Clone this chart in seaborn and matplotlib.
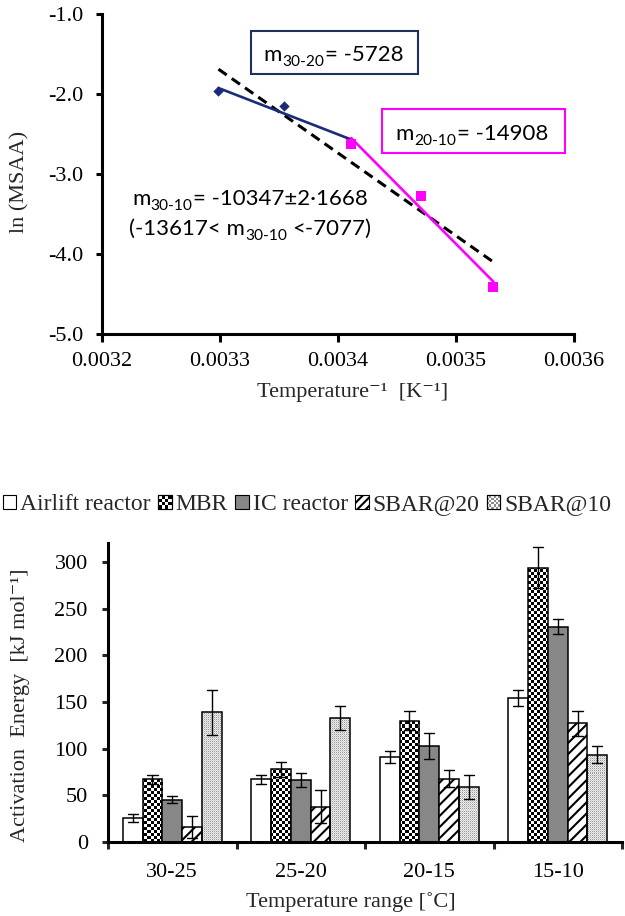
import numpy as np
import pandas as pd
import matplotlib
matplotlib.use("Agg")
import matplotlib.pyplot as plt
import seaborn as sns
from matplotlib.patches import Rectangle, Patch
from matplotlib.legend_handler import HandlerBase
from matplotlib.ticker import FormatStrFormatter, FixedLocator

# ---------------- Arrhenius plot data ----------------
temperatures_c = [30, 25, 20, 15, 10]
ln_msaa = [-1.967, -2.146, -2.625, -3.27, -4.408]

slope_30_20, intercept_30_20 = -5728, 16.970
slope_20_10, intercept_20_10 = -14908, 48.304
slope_30_10, intercept_30_10 = -10347, 32.442

# ---------------- Activation energy data ----------------
temp_ranges = ["30-25", "25-20", "20-15", "15-10"]
reactors = ["Airlift reactor", "MBR", "IC reactor", "SBAR@20", "SBAR@10"]
ea_airlift = [26, 67, 91, 154]
ea_mbr = [67, 78, 130, 294]
ea_ic = [45.5, 66.5, 103, 230.5]
ea_sbar20 = [16, 38, 68, 127]
ea_sbar10 = [139, 133, 59, 93.5]
err_airlift = [4.5, 4.5, 6, 8.6]
err_mbr = [4.5, 8, 10, 21.5]
err_ic = [4, 7.5, 14, 8]
err_sbar20 = [12, 17.5, 9, 13.5]
err_sbar10 = [24, 12.5, 12.5, 9]

NAVY = "#1c2b78"
MAGENTA = "#ff00ff"

sns.set_style("ticks")
plt.rcParams["font.family"] = ["Liberation Serif", "DejaVu Serif"]
plt.rcParams["axes.unicode_minus"] = False
plt.rcParams["hatch.linewidth"] = 1.5

fig = plt.figure(figsize=(6.25, 9.16), dpi=100)
renderer = fig.canvas.get_renderer()

# ======================= Arrhenius plot =======================
ax1 = fig.add_axes([0.1632, 0.6354, 0.7552, 0.3493])
inv_t = [1.0 / (t + 273.15) for t in temperatures_c]

# fitted segments
x_30, x_20, x_10 = inv_t[0], inv_t[2], inv_t[4]
sns.lineplot(x=[x_30, x_10],
             y=[slope_30_10 * x_30 + intercept_30_10, slope_30_10 * x_10 + intercept_30_10],
             color="black", linewidth=2.2, ax=ax1)
ax1.lines[-1].set_dashes((3.3, 2.0))
sns.lineplot(x=[x_30, x_20],
             y=[slope_30_20 * x_30 + intercept_30_20, slope_30_20 * x_20 + intercept_30_20],
             color=NAVY, linewidth=1.9, ax=ax1)
sns.lineplot(x=[x_20, x_10],
             y=[slope_20_10 * x_20 + intercept_20_10, slope_20_10 * x_10 + intercept_20_10],
             color=MAGENTA, linewidth=1.9, ax=ax1)

# measured points
sns.scatterplot(x=inv_t[:2], y=ln_msaa[:2], marker="D", s=28, color=NAVY,
                edgecolor=NAVY, linewidth=0, ax=ax1, zorder=5)
sns.scatterplot(x=inv_t[2:], y=ln_msaa[2:], marker="s", s=44, color=MAGENTA,
                edgecolor=MAGENTA, linewidth=0, ax=ax1, zorder=5)

ax1.set_xlim(0.0032, 0.0036)
ax1.set_ylim(-5.0, -1.0)
ax1.set_xticks([0.0032, 0.0033, 0.0034, 0.0035, 0.0036])
ax1.set_yticks([-5.0, -4.0, -3.0, -2.0, -1.0])
ax1.xaxis.set_major_formatter(FormatStrFormatter("%.4f"))
ax1.yaxis.set_major_formatter(FormatStrFormatter("%.1f"))
for side in ("top", "right"):
    ax1.spines[side].set_visible(False)
for side in ("left", "bottom"):
    ax1.spines[side].set_linewidth(2.2)
    ax1.spines[side].set_color("black")
ax1.tick_params(axis="both", direction="out", width=2.2, color="black",
                labelsize=16, labelcolor="black")
ax1.tick_params(axis="y", length=4.5, pad=9)
ax1.tick_params(axis="x", length=6, pad=7)

ax1.set_xlabel("Temperature\u207b\u00b9  [K\u207b\u00b9]", fontsize=16)
ax1.xaxis.set_label_coords(0.53, -0.184)
ax1.xaxis.label.set_va("center")
ax1.set_ylabel("ln (MSAA)", fontsize=16)
ax1.yaxis.set_label_coords(-0.174, 0.475)
ax1.yaxis.label.set_va("center")

# slope annotations, built from pieces so the subscripts keep plain hyphens
ANN_FAMILY = ["Lato", "DejaVu Sans"]
ANN_SIZE = 16
SUB_SCALE = 0.7


def rich_text(ax, x, y, parts, zorder=7):
    """parts: (text, is_subscript, gap_before_px); x,y = centre/baseline in axes fraction."""
    widths = []
    for s, sub, gap in parts:
        t = ax.text(0, 0, s, fontsize=ANN_SIZE * (SUB_SCALE if sub else 1), family=ANN_FAMILY)
        widths.append(t.get_window_extent(renderer).width)
        t.remove()
    total = sum(widths) + sum(p[2] for p in parts)
    dx = -total / 2
    for (s, sub, gap), w in zip(parts, widths):
        dx += gap
        ax.annotate(s, xy=(x, y), xycoords="axes fraction",
                    xytext=(dx, -5 if sub else 0), textcoords="offset pixels",
                    ha="left", va="baseline", color="black",
                    fontsize=ANN_SIZE * (SUB_SCALE if sub else 1),
                    family=ANN_FAMILY, zorder=zorder)
        dx += w


ax1.add_patch(Rectangle((0.3157, 0.8125), 0.3538, 0.1344, transform=ax1.transAxes,
                        facecolor="white", edgecolor="#1f3160", linewidth=1.5, zorder=6))
rich_text(ax1, 0.4905, 0.853, [("m", False, 0), ("30-20", True, 0.5), ("= -5728", False, 0.5)])
ax1.add_patch(Rectangle((0.5932, 0.5656), 0.3877, 0.1375, transform=ax1.transAxes,
                        facecolor="white", edgecolor=MAGENTA, linewidth=1.5, zorder=6))
rich_text(ax1, 0.783, 0.606, [("m", False, 0), ("20-10", True, 0.5), ("= -14908", False, 0.5)])
rich_text(ax1, 0.3136, 0.403, [("m", False, 0), ("30-10", True, 0.5),
                               ("= -10347±2·1668", False, 0.5)])
rich_text(ax1, 0.3146, 0.309, [("(-13617< m", False, 0), ("30-10", True, 0.5),
                               ("<-7077)", False, 5)])

# ======================= Activation energy bars =======================
ax2 = fig.add_axes([0.1728, 0.0808, 0.8224, 0.3261])

values = [ea_airlift, ea_mbr, ea_ic, ea_sbar20, ea_sbar10]
errors = [err_airlift, err_mbr, err_ic, err_sbar20, err_sbar10]
rows = []
for name, vals, errs in zip(reactors, values, errors):
    for rng, v, e in zip(temp_ranges, vals, errs):
        rows.append({"range": rng, "reactor": name, "ea": v - e})
        rows.append({"range": rng, "reactor": name, "ea": v + e})
df = pd.DataFrame(rows)

sns.barplot(data=df, x="range", y="ea", hue="reactor", order=temp_ranges,
            hue_order=reactors, estimator="mean",
            errorbar=lambda v: (v.min(), v.max()),
            width=0.77, capsize=0.4, saturation=1, legend=False,
            err_kws={"color": "black", "linewidth": 1.0},
            palette=["white"] * 5, ax=ax2)

ax2.set_xlim(-0.5, 3.5)
ax2.set_ylim(0, 320)

# pixel-scale textures for the patterned bars
bb = ax2.get_window_extent(renderer)
hpx, wpx = int(round(bb.height)), int(round(bb.width))
yy, xx = np.mgrid[0:hpx, 0:wpx]
checker = (((xx // 3) + (yy // 3)) % 2).astype(float)
speckle = np.where((xx % 2 == 0) & (yy % 2 == 0), 0.6, 0.93)
speckle = np.where((xx % 2 == 1) & (yy % 2 == 1), 0.8, speckle)


def fill_texture(ax, patch, tex):
    img = ax.imshow(tex, cmap="gray", vmin=0, vmax=1, origin="lower",
                    extent=(-0.5, 3.5, 0, 320), interpolation="nearest",
                    aspect="auto", zorder=0.9)
    img.set_clip_path(patch)


styles = {
    "Airlift reactor": dict(face="white", hatch=None, tex=None),
    "MBR": dict(face="none", hatch=None, tex=checker),
    "IC reactor": dict(face="#878787", hatch=None, tex=None),
    "SBAR@20": dict(face="white", hatch="///", tex=None),
    "SBAR@10": dict(face="none", hatch=None, tex=speckle),
}
for name, cont in zip(reactors, ax2.containers):
    st = styles[name]
    for bar in cont:
        bar.set_facecolor(st["face"])
        bar.set_edgecolor("black")
        bar.set_linewidth(1.1)
        if st["hatch"]:
            bar.set_hatch(st["hatch"])
        if st["tex"] is not None:
            fill_texture(ax2, bar, st["tex"])

ax2.set_xlim(-0.5, 3.5)
ax2.set_ylim(0, 320)
ax2.set_yticks([0, 50, 100, 150, 200, 250, 300])
ax2.xaxis.set_major_locator(FixedLocator([-0.5, 0.5, 1.5, 2.5, 3.5]))
ax2.set_xticklabels([])
ax2.xaxis.set_minor_locator(FixedLocator([0, 1, 2, 3]))
ax2.set_xticklabels(temp_ranges, minor=True)
for side in ("top", "right"):
    ax2.spines[side].set_visible(False)
for side in ("left", "bottom"):
    ax2.spines[side].set_linewidth(2.2)
    ax2.spines[side].set_color("black")
ax2.tick_params(axis="x", which="major", direction="out", length=5, width=2.2)
ax2.tick_params(axis="x", which="minor", length=0, pad=15, labelsize=16, labelcolor="black")
ax2.tick_params(axis="y", direction="out", length=4.5, width=2.2, pad=10, labelsize=16,
                labelcolor="black")

ax2.set_xlabel("Temperature range [˚C]", fontsize=16)
ax2.xaxis.set_label_coords(0.473, -0.20)
ax2.xaxis.label.set_va("center")
ax2.set_ylabel("Activation  Energy  [kJ mol\u207b\u00b9]", fontsize=16)
ax2.yaxis.set_label_coords(-0.171, 0.459)
ax2.yaxis.label.set_va("center")


# legend with small patterned squares
class SquareHandler(HandlerBase):
    def __init__(self, face="white", hatch=None, pattern=None):
        super().__init__()
        self.face, self.hatch, self.pattern = face, hatch, pattern

    def create_artists(self, legend, orig_handle, xdescent, ydescent,
                       width, height, fontsize, trans):
        side = height
        x0 = -xdescent + (width - side) / 2
        y0 = -ydescent
        arts = [Rectangle((x0, y0), side, side, facecolor=self.face,
                          edgecolor="black", linewidth=0.8,
                          hatch=self.hatch, transform=trans)]
        if self.pattern in ("checker", "speckle"):
            n = 4 if self.pattern == "checker" else 6
            c = side / n
            col = "black" if self.pattern == "checker" else "#8c8c8c"
            for i in range(n):
                for j in range(n):
                    if (i + j) % 2 == 0:
                        arts.append(Rectangle((x0 + i * c, y0 + j * c), c, c,
                                              facecolor=col, edgecolor="none",
                                              transform=trans))
            arts.append(Rectangle((x0, y0), side, side, facecolor="none",
                                  edgecolor="black", linewidth=0.8,
                                  transform=trans))
        return arts


handles = [Patch(label=r) for r in reactors]
handler_map = {
    handles[0]: SquareHandler("white"),
    handles[1]: SquareHandler("white", pattern="checker"),
    handles[2]: SquareHandler("#878787"),
    handles[3]: SquareHandler("white", hatch="////"),
    handles[4]: SquareHandler("white", pattern="speckle"),
}
fig.legend(handles=handles, labels=reactors, handler_map=handler_map,
           loc="center left", bbox_to_anchor=(0.006, 0.4487), bbox_transform=fig.transFigure,
           ncol=5, frameon=False, fontsize=17, handlelength=0.5,
           handleheight=0.5, handletextpad=0.2, columnspacing=0.35,
           borderpad=0, borderaxespad=0)

fig.savefig("out.png", dpi=100)
